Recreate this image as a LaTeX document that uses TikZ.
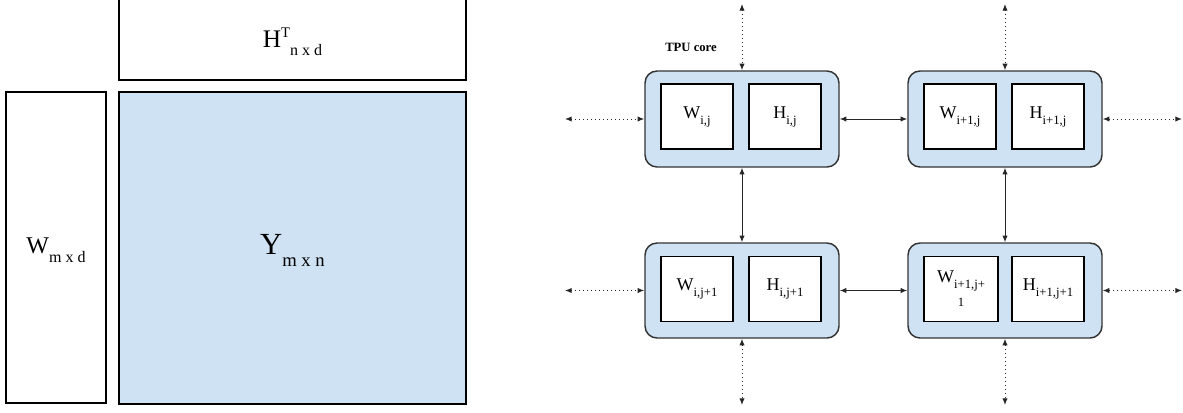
\documentclass[tikz,border=0pt]{standalone}
\usepackage{fontspec}
\setmainfont{Liberation Serif}
\usetikzlibrary{arrows.meta}
% lowered subscript: size, drop, text
\newcommand\lsub[3]{\raisebox{-#2}{\fontsize{#1}{#1}\selectfont #3}}
\newcommand\hsup[3]{\raisebox{#2}{\fontsize{#1}{#1}\selectfont #3}}
\definecolor{cellblue}{HTML}{CFE2F3}
\definecolor{coreedge}{HTML}{333333}
\tikzset{
  matbox/.style={draw=black, line width=0.9pt},
  corebox/.style={draw=coreedge, fill=cellblue, line width=1.1pt, rounded corners=9pt},
  cellbox/.style={draw=black, fill=white, line width=0.9pt, minimum width=54pt, minimum height=48.75pt, inner sep=0pt, font=\fontsize{13.5}{15}\selectfont, align=center},
  link/.style={{Latex[length=5pt,width=4pt]}-{Latex[length=5pt,width=4pt]}, line width=0.75pt, draw=black!85},
  outlink/.style={link, dash pattern=on 0.8pt off 2.2pt},
}
\begin{document}
\begin{tikzpicture}[x=0.75pt, y=-0.75pt]
\useasboundingbox (0,0) rectangle (1183,412);

% matrices Y = W H^T
\draw[matbox] (119,-5) rectangle (466,80);
\draw[matbox, fill=cellblue] (119,92) rectangle (466,404);
\draw[matbox] (6,92) rectangle (106,403);
\node (ht) at (292.5,42) {\fontsize{19}{21}\selectfont H\hsup{11}{7.5pt}{T}\lsub{12}{6pt}{n x d}};
\node (y) at (292.5,250) {\fontsize{23}{26}\selectfont Y\lsub{14}{9pt}{m x n}};
\node (w) at (56,250) {\fontsize{18}{20}\selectfont W\lsub{12}{6.5pt}{m x d}};

% TPU cores
\node[corebox, minimum width=145.5pt, minimum height=72pt] (c11) at (742,119) {};
\node[corebox, minimum width=145.5pt, minimum height=72pt] (c21) at (1005,119) {};
\node[corebox, minimum width=145.5pt, minimum height=71.25pt] (c12) at (742,290.5) {};
\node[corebox, minimum width=145.5pt, minimum height=71.25pt] (c22) at (1005,290.5) {};

\node[font=\bfseries\fontsize{9.5}{11}\selectfont] (lbl) at (691,47) {TPU core};

% memory cells inside each core
\node[cellbox] (w11) at (697,116.5) {W\lsub{9.5}{4.5pt}{i,j}};
\node[cellbox] (h11) at (785,116.5) {H\lsub{9.5}{4.5pt}{i,j}};
\node[cellbox] (w21) at (960,116.5) {W\lsub{9.5}{4.5pt}{i+1,j}};
\node[cellbox] (h21) at (1048,116.5) {H\lsub{9.5}{4.5pt}{i+1,j}};
\node[cellbox] (w12) at (697,289) {W\lsub{9.5}{4.5pt}{i,j+1}};
\node[cellbox] (h12) at (785,289) {H\lsub{9.5}{4.5pt}{i,j+1}};
\node[cellbox, minimum width=55.5pt] (w22) at (961,289) {W\lsub{9.5}{4.5pt}{i+1,j+}\\[3pt]{\fontsize{9.5}{10}\selectfont 1}};
\node[cellbox] (h22) at (1048,289) {H\lsub{9.5}{4.5pt}{i+1,j+1}};

% links to outside the grid
\coordinate (l1) at (565,119);
\coordinate (r1) at (1182,119);
\coordinate (l2) at (565,290.5);
\coordinate (r2) at (1182,290.5);
\coordinate (t1) at (742,4);
\coordinate (t2) at (1005,4);
\coordinate (b1) at (742,405);
\coordinate (b2) at (1005,405);
\draw[outlink] (l1) -- (c11.west);
\draw[outlink] (c21.east) -- (r1);
\draw[outlink] (l2) -- (c12.west);
\draw[outlink] (c22.east) -- (r2);
\draw[outlink] (t1) -- (c11.north);
\draw[outlink] (t2) -- (c21.north);
\draw[outlink] (c12.south) -- (b1);
\draw[outlink] (c22.south) -- (b2);

% links between neighbouring cores
\draw[link] (c11.east) -- (c21.west);
\draw[link] (c12.east) -- (c22.west);
\draw[link] (c11.south) -- (c12.north);
\draw[link] (c21.south) -- (c22.north);
\end{tikzpicture}
\end{document}
